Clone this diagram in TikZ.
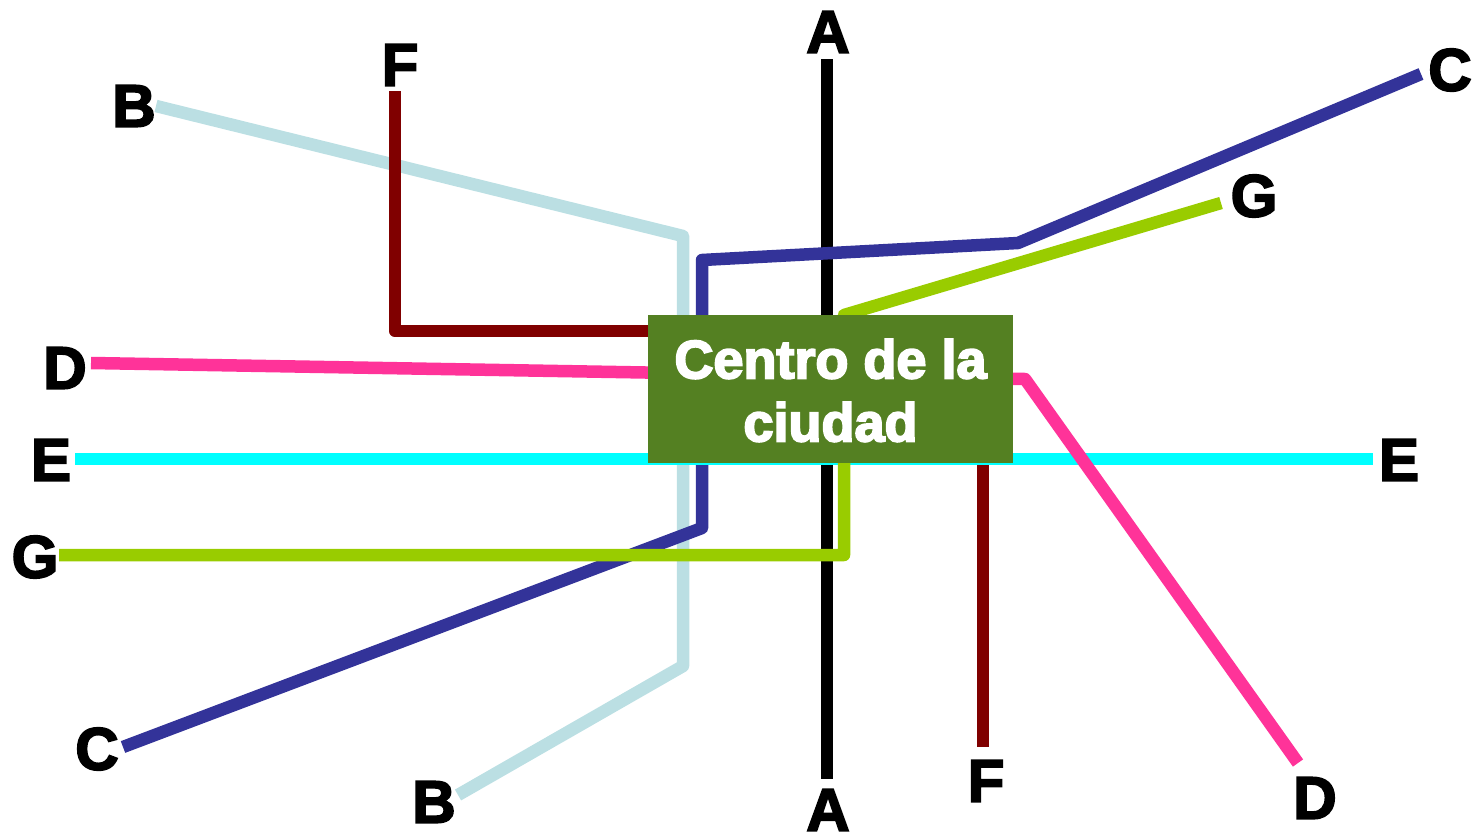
\documentclass[tikz,border=0pt]{standalone}
\usepackage{fontspec}
\setmainfont{Liberation Sans}
\newfontfamily\lblfont[FakeBold=3]{Liberation Sans Bold}
\newfontfamily\boxfont[FakeBold=3.5]{Liberation Sans Bold}
\definecolor{lineB}{HTML}{BBDFE3}
\definecolor{lineC}{HTML}{333399}
\definecolor{lineD}{HTML}{FF3399}
\definecolor{lineE}{HTML}{00FFFF}
\definecolor{lineF}{HTML}{800000}
\definecolor{lineG}{HTML}{99CC00}
\definecolor{boxgreen}{HTML}{548022}
\tikzset{
  route/.style={line width=12.5pt,line join=round,line cap=butt},
  lbl/.style={inner sep=0pt,text=black,font=\lblfont\fontsize{60}{60}\selectfont},
  centrebox/.style={fill=boxgreen,inner sep=0pt,minimum width=365pt,minimum height=148pt},
  centretext/.style={inner sep=0pt,text=white,align=center,font=\boxfont\fontsize{54}{63}\selectfont}
}
\begin{document}
\begin{tikzpicture}[x=1pt,y=-1pt]
\useasboundingbox (0,0) rectangle (1474,835);
% label nodes
\node[lbl] (At) at (828,32) {A};
\node[lbl] (Ab) at (828,810) {A};
\node[lbl] (Bt) at (134,106) {B};
\node[lbl] (Bb) at (434,802) {B};
\node[lbl] (Ct) at (1450,70) {C};
\node[lbl] (Cb) at (97,749) {C};
\node[lbl] (Dt) at (65,368) {D};
\node[lbl] (Db) at (1315,798) {D};
\node[lbl] (El) at (51,460) {E};
\node[lbl] (Er) at (1399,460) {E};
\node[lbl] (Ft) at (400,65) {F};
\node[lbl] (Fb) at (986,781) {F};
\node[lbl] (Gt) at (1254,196) {G};
\node[lbl] (Gb) at (35,557) {G};
% free ends
\coordinate (a1) at (827,59);   \coordinate (a2) at (827,779);
\coordinate (b1) at (156,106);  \coordinate (b2) at (683,236);
\coordinate (b3) at (683,666);  \coordinate (b4) at (458,795);
\coordinate (c1) at (1421,74);  \coordinate (c2) at (1018,243);
\coordinate (c3) at (702,260);  \coordinate (c4) at (702,528);
\coordinate (c5) at (123,747);
\coordinate (d1) at (91,363);   \coordinate (d2) at (1025,379);
\coordinate (d3) at (1298,763);
\coordinate (e1) at (75,459);   \coordinate (e2) at (1373,459);
\coordinate (f1) at (395,91);   \coordinate (f2) at (395,331);
\coordinate (f3) at (983,331);  \coordinate (f4) at (983,747);
\coordinate (g1) at (1221,203); \coordinate (g2) at (844,315);
\coordinate (g3) at (844,555);  \coordinate (g4) at (59,555);
% routes
\draw[route,lineB] (b1) -- (b2) -- (b3) -- (b4);
\draw[route,black] (a1) -- (a2);
\draw[route,lineF] (f1) -- (f2) -- (f3) -- (f4);
\draw[route,lineC] (c1) -- (c2) -- (c3) -- (c4) -- (c5);
\draw[route,lineE] (e1) -- (e2);
\draw[route,lineD] (d1) -- (d2) -- (d3);
\draw[route,lineG] (g1) -- (g2) -- (g3) -- (g4);
% centre box
\node[centrebox] (centre) at (830.5,389) {};
\node[centretext] (centrelabel) at (830.5,390.5) {Centro de la\\ciudad};
\end{tikzpicture}
\end{document}
